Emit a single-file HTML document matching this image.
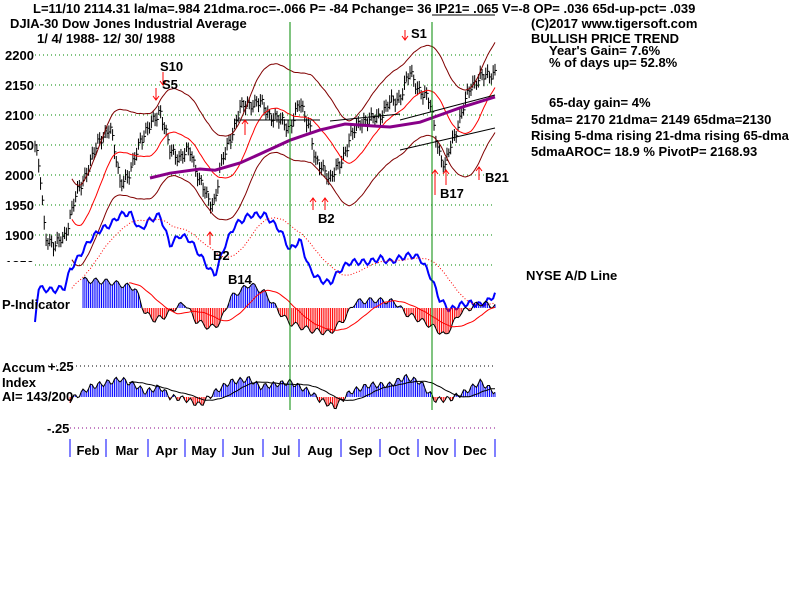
<!DOCTYPE html><html><head><style>
body{margin:0;background:#fff;width:800px;height:600px;overflow:hidden}
svg text{font-family:"Liberation Sans",sans-serif;font-weight:bold;font-size:13px;fill:#000}
</style></head><body>
<svg id="s" width="800" height="600" xmlns="http://www.w3.org/2000/svg">
<g id="grid"></g><g id="ch"></g>
<text x="33" y="13">L=11/10  2114.31  la/ma=.984 21dma.roc=-.066 P= -84 Pchange=  36 IP21= .065 V=-8 OP= .036 65d-up-pct= .039</text>
<line x1="432" y1="15" x2="495" y2="15" stroke="#000"/>
<text x="10" y="28">DJIA-30  Dow Jones Industrial Average</text>
<text x="37" y="43">1/ 4/ 1988- 12/ 30/ 1988</text>
<text x="531" y="28">(C)2017 www.tigersoft.com</text>
<text x="531" y="43">BULLISH PRICE TREND</text>
<text x="549" y="55">Year's Gain= 7.6%</text>
<text x="549" y="67">% of days up= 52.8%</text>
<text x="549" y="107">65-day gain= 4%</text>
<text x="531" y="124">5dma= 2170 21dma= 2149 65dma=2130</text>
<text x="531" y="140">Rising 5-dma  rising 21-dma  rising 65-dma</text>
<text x="531" y="156">5dmaAROC= 18.9 %  PivotP= 2168.93</text>
<text x="526" y="280">NYSE A/D Line</text>
<text x="2" y="309">P-Indicator</text>
<text x="2" y="372">Accum</text><text x="2" y="387">Index</text><text x="2" y="401">AI= 143/200</text>
<text x="48" y="371">+.25</text><text x="47" y="433">-.25</text>
<text x="160" y="71" font-size="15">S10</text><text x="162" y="89" font-size="15">S5</text>
<text x="411" y="38" font-size="15">S1</text><text x="318" y="223" font-size="15">B2</text>
<text x="213" y="260" font-size="15">B2</text><text x="228" y="284" font-size="15">B14</text>
<text x="440" y="198" font-size="15">B17</text><text x="485" y="182" font-size="15">B21</text>
</svg>
<script>
const S=document.getElementById('ch'),G=document.getElementById('grid');
function el(p,t,a){const e=document.createElementNS('http://www.w3.org/2000/svg',t);for(const k in a)e.setAttribute(k,a[k]);p.appendChild(e);return e;}
const Y=p=>55+(2200-p)*0.6;
[2200,2150,2100,2050,2000,1950,1900,1850].forEach(v=>{el(G,'line',{x1:35,x2:495,y1:Y(v),y2:Y(v),stroke:'#080','stroke-dasharray':'1,3'});
 const t=el(G,'text',{x:5,y:Y(v)+5});t.textContent=v;});
el(G,'rect',{x:0,y:262,width:34,height:8,fill:'#fff'});
el(G,'line',{x1:48,x2:495,y1:366,y2:366,stroke:'#000','stroke-dasharray':'1,3'});
el(G,'line',{x1:70,x2:495,y1:428,y2:428,stroke:'#808','stroke-dasharray':'1,3'});
function interp(k,x){for(let i=0;i<k.length-1;i++){if(x>=k[i][0]&&x<=k[i+1][0]){const t=(x-k[i][0])/(k[i+1][0]-k[i][0]);return k[i][1]+t*(k[i+1][1]-k[i][1]);}}return k[x<k[0][0]?0:k.length-1][1];}
const kp=[[35,2050],[40,2000],[45,1900],[55,1880],[65,1900],[75,1960],[90,2020],[100,2060],[110,2080],[120,1990],[130,2000],[140,2060],[150,2080],[160,2110],[170,2040],[180,2030],[190,2040],[200,1990],[210,1950],[215,1960],[220,2010],[230,2060],[240,2110],[250,2120],[260,2120],[270,2100],[280,2090],[290,2080],[300,2120],[310,2080],[315,2020],[325,2010],[330,1990],[340,2020],[350,2060],[360,2090],[370,2090],[380,2100],[390,2120],[400,2130],[410,2170],[420,2140],[430,2120],[440,2030],[445,2010],[450,2050],[460,2090],[470,2150],[480,2160],[490,2170],[495,2170]];
const N=250,xs=[],c=[];
for(let i=0;i<N;i++){const x=35+i*460/(N-1);xs.push(x);c.push(interp(kp,x)+7*Math.sin(i*1.7)+4*Math.sin(i*0.63));}
for(let i=0;i<N;i++){const h=c[i]+7+5*Math.abs(Math.sin(i*2.3)),l=c[i]-7-5*Math.abs(Math.cos(i*1.9));
 el(S,'line',{x1:xs[i],x2:xs[i],y1:Y(h),y2:Y(l),stroke:'#000'});el(S,'line',{x1:xs[i],x2:xs[i]+2,y1:Y(c[i]),y2:Y(c[i]),stroke:'#000'});}
function ma(a,n){return a.map((v,i)=>{let s=0,k=0;for(let j=Math.max(0,i-n+1);j<=i;j++){s+=a[j];k++;}return s/k;});}
function pl(pts,st,w,da){el(S,'polyline',{points:pts.map(p=>p[0].toFixed(1)+','+p[1].toFixed(1)).join(' '),fill:'none',stroke:st,'stroke-width':w||1,'stroke-dasharray':da||''});}
const m21=ma(c,21);
const st=20;
pl(xs.map((x,i)=>[x,Y(m21[i])]).slice(st),'#f00',1);
pl(xs.map((x,i)=>[x,Y(m21[i]*1.035)]).slice(st),'#800000',1);
pl(xs.map((x,i)=>[x,Y(m21[i]*0.965)]).slice(st),'#800000',1);
const pk65=[[150,1995],[170,2003],[200,2010],[215,2008],[240,2020],[260,2035],[290,2058],[320,2075],[345,2085],[370,2082],[390,2080],[420,2088],[440,2100],[460,2112],[495,2130]];
pl(pk65.map(p=>[p[0],Y(p[1])]),'#808',3);
pl([[235,120],[290,120],[320,120]],'#000',1);pl([[330,121],[400,114]],'#000',1);
pl([[400,120],[495,95]],'#000',1);pl([[400,150],[495,128]],'#000',1);
const ak=[[35,322],[38,288],[50,290],[55,290],[65,287],[70,270],[80,255],[90,240],[100,230],[110,225],[120,215],[130,213],[140,230],[150,220],[160,215],[170,245],[180,235],[190,240],[200,255],[210,270],[215,275],[225,245],[235,225],[250,215],[265,215],[280,230],[290,250],[300,240],[310,270],[320,280],[330,283],[340,270],[350,262],[370,262],[380,258],[390,262],[400,258],[410,255],[420,258],[430,275],[440,300],[450,310],[460,305],[470,303],[480,305],[490,300],[495,293]];
const ad=xs.map((x,i)=>interp(ak,x)+3*Math.sin(i*1.3));
pl(xs.map((x,i)=>[x,ad[i]]),'#00f',2);
const adm=ma(ad,21);pl(xs.map((x,i)=>[x,adm[i]]).slice(20),'#f00',1,'1,2');
const pk=[[82,-28],[110,-26],[135,-20],[145,5],[155,12],[165,8],[175,0],[185,-5],[195,12],[210,20],[220,15],[230,-10],[250,-24],[265,-15],[280,5],[290,15],[310,22],[330,25],[345,10],[355,-6],[375,-8],[395,-6],[405,5],[420,12],[435,20],[445,28],[460,5],[480,-5],[495,-2]];
const P=xs.map((x,i)=>interp(pk,x)+3*Math.sin(i*1.1));const PB=308;
for(let i=0;i<N;i++){if(xs[i]<82)continue;el(S,'line',{x1:xs[i],x2:xs[i],y1:PB,y2:PB+P[i],stroke:P[i]<0?'#00f':'#f00'});}
pl(xs.map((x,i)=>[x,PB+P[i]]).filter(p=>p[0]>=82),'#000',1);
const pm=ma(P,21);pl(xs.map((x,i)=>[x,PB+pm[i]+0]).filter(p=>p[0]>=128),'#f00',1);
const qk=[[70,3],[80,-3],[90,-10],[110,-15],[120,-18],[135,-12],[145,-5],[160,-10],[170,0],[185,2],[200,8],[215,-5],[230,-15],[250,-18],[260,-10],[290,-15],[310,-5],[320,3],[335,10],[350,-5],[370,-12],[390,-12],[405,-20],[420,-15],[435,3],[450,2],[465,-5],[480,-15],[495,-5]];
const A=xs.map((x,i)=>interp(qk,x)+3*Math.sin(i*1.4));const AB=397;
for(let i=0;i<N;i++){if(xs[i]<70)continue;el(S,'line',{x1:xs[i],x2:xs[i],y1:AB,y2:AB+A[i],stroke:A[i]<0?'#00f':'#f00'});}
pl(xs.map((x,i)=>[x,AB+A[i]]).filter(p=>p[0]>=70),'#000',1);
const am=ma(A,21);pl(xs.map((x,i)=>[x,AB+am[i]]).filter(p=>p[0]>=128),'#000',1);
el(S,'line',{x1:290,x2:290,y1:22,y2:410,stroke:'#080'});el(S,'line',{x1:432,x2:432,y1:22,y2:410,stroke:'#080'});
const a=[70,106,148,185,223,263,299,341,380,418,455,495];
a.forEach(x=>el(S,'line',{x1:x,x2:x,y1:439,y2:457,stroke:'#00f'}));
['Feb','Mar','Apr','May','Jun','Jul','Aug','Sep','Oct','Nov','Dec'].forEach((m,i)=>{const t=el(S,'text',{x:a[i]+(a[i+1]-a[i])/2,y:455,'text-anchor':'middle'});t.textContent=m;});
function arr(x,y1,y2){el(S,'line',{x1:x,x2:x,y1:y1,y2:y2,stroke:'#f00'});const d=y2>y1?-1:1;el(S,'polyline',{points:`${x-3},${y2+d*4} ${x},${y2} ${x+3},${y2+d*4}`,fill:'none',stroke:'#f00'});}
arr(156,88,100);arr(163,72,85);arr(405,30,40);arr(313,210,198);arr(325,210,198);arr(210,245,232);arr(435,195,170);arr(446,185,170);arr(479,180,167);arr(245,135,120);
</script>
</body></html>
